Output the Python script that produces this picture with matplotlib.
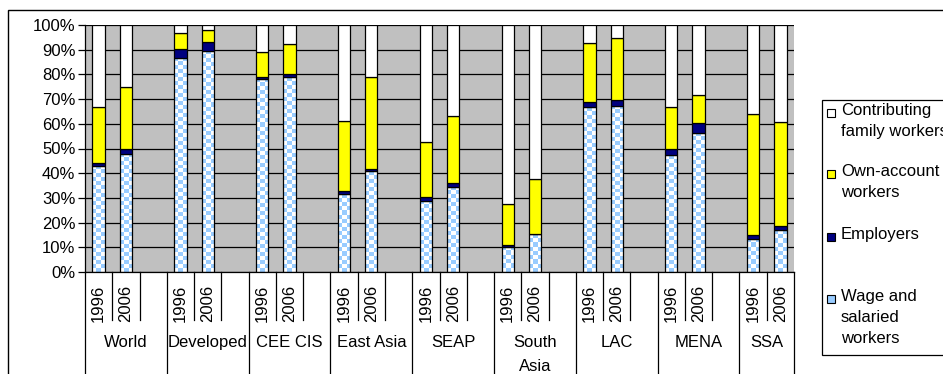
import numpy as np
import matplotlib
matplotlib.use("Agg")
import matplotlib.pyplot as plt
from matplotlib.colors import ListedColormap
from matplotlib.patches import Rectangle

plt.rcParams['font.family'] = ['Liberation Sans', 'DejaVu Sans']

groups = ['World', 'Developed', 'CEE CIS', 'East Asia', 'SEAP',
          'South\nAsia', 'LAC', 'MENA', 'SSA']
years = ['1996', '2006']

# shares in %, order: 1996, 2006 per group
wage = [43.0, 47.8, 86.7, 89.5, 78.2, 78.8, 31.4, 40.8, 28.9, 34.6,
        10.3, 15.2, 66.8, 67.3, 47.3, 56.3, 13.5, 16.9]
employers = [1.3, 1.9, 3.4, 3.5, 0.8, 1.3, 1.2, 0.8, 1.3, 1.5,
             0.8, 0.3, 1.9, 2.3, 2.7, 4.1, 1.4, 1.6]
own_account = [22.5, 25.0, 6.5, 4.8, 9.9, 12.1, 28.5, 37.4, 22.5, 27.1,
               16.3, 22.0, 24.1, 25.3, 16.9, 11.2, 48.9, 42.1]
family = [100 - a - b - c for a, b, c in zip(wage, employers, own_account)]

series_labels = ['Contributing\nfamily workers', 'Own-account\nworkers',
                 'Employers', 'Wage and\nsalaried\nworkers']
series_colors = ['white', '#FFFF00', '#000080', '#99CCFF']

FS = 12
W, H = 943, 374
fig = plt.figure(figsize=(W / 100, H / 100), dpi=100)
ax = fig.add_axes([85 / W, 1 - 272 / H, (794 - 85) / W, (272 - 25) / H])
ax.set_facecolor('#C0C0C0')


def fx(px):
    return px / W


def fy(py):
    return 1 - py / H


# outer chart frame
fig.patches.append(Rectangle((fx(8), -0.2), 1.2, 1.2 - 10 / H,
                             transform=fig.transFigure, fill=False,
                             edgecolor='black', linewidth=1.0))

# slot positions: 1996, 2006, gap for each group (no gap after the last)
xpos = []
for g in range(len(groups)):
    xpos += [3 * g, 3 * g + 1]
xpos = np.array(xpos)
bw = 0.45

bottom = np.zeros(len(xpos))
layers = [(wage, 'none'), (employers, '#000080'),
          (own_account, '#FFFF00'), (family, 'white')]
checker = ListedColormap(['white', '#99CCFF'])
px_per_pct = (272 - 25) / 100.0
for vals, col in layers:
    vals = np.array(vals)
    bars = ax.bar(xpos, vals, bw, bottom=bottom, color=col,
                  edgecolor='black', linewidth=0.9, zorder=3)
    if col == 'none':
        for b, v in zip(bars, vals):
            nr = max(1, int(round(v * px_per_pct / 4.0)))
            ii, jj = np.indices((nr, 3))
            im = ax.imshow((ii + jj) % 2, cmap=checker, origin='lower',
                           extent=(b.get_x(), b.get_x() + bw, 0, v),
                           aspect='auto', interpolation='nearest', zorder=2)
            im.set_clip_path(b)
    bottom += vals

ax.set_xlim(-0.5, 25.5)
ax.set_ylim(0, 100)
ax.set_yticks(np.arange(0, 101, 10))
ax.set_yticklabels([f'{v}%' for v in range(0, 101, 10)], fontsize=FS)
ax.yaxis.grid(True, color='black', linewidth=0.9)
ax.set_axisbelow(True)
ax.tick_params(axis='y', length=5, width=0.9, pad=2)
for s in ['top', 'right', 'bottom']:
    ax.spines[s].set_visible(False)
ax.spines['left'].set_linewidth(0.9)

ax.set_xticks(xpos)
ax.set_xticklabels(years * len(groups), rotation=90, fontsize=FS,
                   va='top')
ax.tick_params(axis='x', length=0, pad=9)

trans = ax.get_xaxis_transform()
# separators under the axis
short = -48 / (272 - 25)
ylab = -63 / 247
for g in range(len(groups)):
    x0 = 3 * g - 0.5
    ax.plot([x0, x0], [0, -1], transform=trans, color='black',
            linewidth=0.9, clip_on=False)
    ax.plot([x0 + 1, x0 + 1], [0, short], transform=trans, color='black',
            linewidth=0.9, clip_on=False)
    if g < len(groups) - 1:
        ax.plot([x0 + 2, x0 + 2], [0, short], transform=trans,
                color='black', linewidth=0.9, clip_on=False)
        ax.text(x0 + 1.5, ylab, groups[g], transform=trans,
                ha='center', va='top', fontsize=FS, linespacing=1.72)
    else:
        ax.text(x0 + 1, ylab, groups[g], transform=trans,
                ha='center', va='top', fontsize=FS)
ax.plot([25.5, 25.5], [0, -1], transform=trans, color='black',
        linewidth=0.9, clip_on=False)
ax.plot([-0.5, 25.5], [0, 0], color='black', linewidth=0.9, zorder=4,
        clip_on=False)

# legend, laid out like the spreadsheet one
fig.patches.append(Rectangle((fx(822), fy(355)), 0.2, fy(100) - fy(355),
                             transform=fig.transFigure, facecolor='white',
                             edgecolor='black', linewidth=0.9))
cap_tops = [106, 167, 230, 292]
for lab, col, top in zip(series_labels, series_colors, cap_tops):
    fig.patches.append(Rectangle((fx(827), fy(top + 11)), 8 / W, 8 / H,
                                 transform=fig.transFigure, facecolor=col,
                                 edgecolor='black', linewidth=0.8))
    fig.text(fx(841), fy(top - 3), lab, ha='left', va='top', fontsize=FS,
             linespacing=1.5)

fig.savefig('out.png', dpi=100)
